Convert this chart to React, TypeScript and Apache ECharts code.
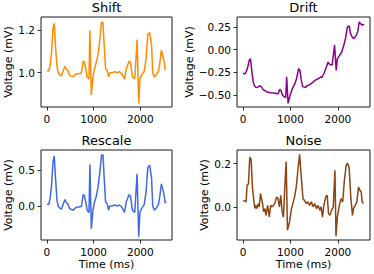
import React, { useEffect, useRef } from "react";
import * as echarts from "echarts";

const titles = ["Shift", "Drift", "Rescale", "Noise"];
const colors = ["#ff8c00", "#8b008b", "#4169e1", "#8b4513"];

const timeMs = [0, 40, 70, 100, 130, 156, 185, 215, 240, 275, 310, 350, 385, 420, 450, 480, 510, 560, 600, 640, 700, 740, 775, 800, 830, 860, 900, 920, 950, 985, 1020, 1050, 1090, 1130, 1170, 1200, 1225, 1255, 1290, 1320, 1345, 1400, 1450, 1500, 1550, 1600, 1640, 1660, 1700, 1760, 1790, 1830, 1880, 1930, 1965, 1990, 2030, 2080, 2120, 2160, 2200, 2240, 2265, 2300, 2340, 2390, 2420, 2450, 2480, 2510, 2530, 2550];

const shiftVals = [1.010, 1.008, 1.040, 1.100, 1.210, 1.233, 1.120, 1.030, 1.000, 0.990, 0.985, 1.010, 1.030, 1.015, 1.010, 0.990, 0.985, 0.980, 0.990, 0.995, 0.995, 1.000, 1.055, 1.050, 1.020, 0.980, 0.970, 1.200, 0.895, 0.980, 1.020, 1.045, 1.080, 1.150, 1.240, 1.235, 1.130, 1.020, 1.010, 0.980, 1.000, 1.000, 1.005, 1.000, 1.005, 0.995, 0.980, 0.970, 1.020, 1.055, 1.045, 0.980, 0.970, 1.155, 0.855, 0.970, 0.990, 1.005, 1.060, 1.180, 1.190, 1.130, 1.000, 0.980, 0.990, 1.010, 1.050, 1.107, 1.080, 1.050, 1.015, 1.020];

const driftVals = [-0.26, -0.27, -0.24, -0.19, -0.12, -0.10, -0.24, -0.36, -0.40, -0.42, -0.415, -0.40, -0.41, -0.44, -0.45, -0.46, -0.47, -0.475, -0.478, -0.48, -0.485, -0.49, -0.44, -0.455, -0.50, -0.52, -0.53, -0.30, -0.595, -0.52, -0.46, -0.42, -0.38, -0.32, -0.21, -0.23, -0.33, -0.41, -0.415, -0.42, -0.40, -0.39, -0.37, -0.35, -0.33, -0.32, -0.30, -0.31, -0.27, -0.19, -0.14, -0.165, -0.17, 0.05, -0.23, -0.10, -0.07, -0.03, 0.04, 0.12, 0.25, 0.26, 0.18, 0.14, 0.12, 0.16, 0.20, 0.305, 0.285, 0.27, 0.28, 0.27];

const rescaleVals = [0.025, 0.02, 0.12, 0.30, 0.62, 0.70, 0.38, 0.08, 0.0, -0.03, -0.045, 0.03, 0.09, 0.045, 0.03, -0.03, -0.045, -0.06, -0.03, -0.015, -0.015, 0.0, 0.16, 0.15, 0.06, -0.06, -0.09, 0.58, -0.32, -0.06, 0.06, 0.12, 0.25, 0.46, 0.72, 0.71, 0.40, 0.06, 0.03, -0.06, 0.0, 0.0, 0.015, 0.0, 0.015, -0.015, -0.06, -0.09, 0.06, 0.16, 0.13, -0.06, -0.09, 0.45, -0.43, -0.09, -0.03, 0.015, 0.18, 0.54, 0.57, 0.39, 0.0, -0.06, -0.03, 0.03, 0.15, 0.31, 0.24, 0.15, 0.045, 0.06];

const noiseTimeMs = [0, 43, 64, 85, 114, 142, 170, 199, 234, 249, 270, 291, 320, 341, 369, 390, 412, 433, 461, 483, 518, 554, 582, 611, 639, 667, 710, 738, 767, 795, 824, 852, 880, 909, 937, 980, 1022, 1051, 1086, 1122, 1157, 1193, 1228, 1264, 1299, 1335, 1370, 1406, 1441, 1477, 1512, 1548, 1583, 1619, 1647, 1676, 1704, 1747, 1775, 1803, 1832, 1867, 1903, 1938, 1960, 1988, 2031, 2066, 2102, 2137, 2173, 2201, 2237, 2272, 2308, 2329, 2364, 2400, 2435, 2464, 2492, 2513, 2542];

const noiseVals = [0.03, 0.029, 0.025, 0.10, 0.108, 0.23, 0.22, 0.09, 0.017, -0.005, 0.009, -0.006, 0.017, 0.002, 0.063, 0.04, 0.017, -0.02, -0.006, -0.037, 0.009, -0.044, 0.009, 0.002, 0.009, 0.017, 0.047, 0.04, 0.002, 0.055, -0.02, -0.045, 0.09, 0.21, -0.105, -0.067, -0.006, 0.017, 0.047, 0.093, 0.17, 0.243, 0.14, 0.04, 0.03, 0.017, 0.025, 0.009, 0.025, 0.002, 0.017, -0.006, 0.009, -0.014, 0.002, -0.045, 0.009, 0.05, 0.055, -0.029, -0.037, -0.014, 0.002, 0.17, -0.133, -0.045, 0.009, 0.04, 0.025, 0.123, 0.19, 0.203, 0.185, 0.047, -0.037, -0.006, 0.009, 0.025, 0.093, 0.078, 0.07, 0.025, 0.017];

const xTicks = [0, 1000, 2000];
const yTicks = [
  [1.0, 1.2],
  [-0.5, -0.25, 0.0, 0.25],
  [0.0, 0.5],
  [0.0, 0.2],
];
const yDecimals = [1, 2, 1, 1];
const yRanges = [
  [0.838, 1.263],
  [-0.635, 0.36],
  [-0.476, 0.784],
  [-0.15, 0.263],
];
const xRange = [-127.5, 2677.5];

const grids = [
  { left: 41, top: 17, width: 131, height: 90 },
  { left: 237, top: 17, width: 133, height: 90 },
  { left: 41, top: 150, width: 131, height: 90 },
  { left: 237, top: 150, width: 133, height: 90 },
];
const yNameGaps = [27.5, 38, 27.5, 26];

const FONT = "DejaVu Sans";

export default function App() {
  const ref = useRef<HTMLDivElement>(null);
  useEffect(() => {
    if (!ref.current) return;
    const chart = echarts.init(ref.current, null, { renderer: "svg" });
    const seriesTimes = [timeMs, timeMs, timeMs, noiseTimeMs];
    const seriesVals = [shiftVals, driftVals, rescaleVals, noiseVals];
    const fmtMinus = (s: string) => s.replace("-", "\u2212");
    const option: any = {
      animation: false,
      backgroundColor: "#fff",
      title: grids.map((g, i) => ({
        text: titles[i],
        left: g.left + g.width / 2,
        top: g.top - 16,
        textAlign: "center",
        textStyle: { fontFamily: FONT, fontSize: 13, fontWeight: "normal", color: "#000" },
        padding: 0,
      })),
      grid: grids.map((g) => ({
        ...g,
        show: true,
        borderColor: "#1a1a1a",
        borderWidth: 1,
        backgroundColor: "transparent",
        containLabel: false,
      })),
      xAxis: grids.map((g, i) => ({
        type: "value",
        gridIndex: i,
        position: "bottom",
        min: xRange[0],
        max: xRange[1],
        name: i >= 2 ? "Time (ms)" : "",
        nameLocation: "middle",
        nameGap: 19,
        nameTextStyle: { fontFamily: FONT, fontSize: 11, color: "#000" },
        axisLine: { show: false, onZero: false },
        splitLine: { show: false },
        axisTick: { show: true, inside: false, length: 3.5, customValues: xTicks, lineStyle: { color: "#1a1a1a", width: 0.9 } },
        axisLabel: {
          show: true,
          margin: 6,
          customValues: xTicks,
          fontFamily: FONT,
          fontSize: 10.5,
          color: "#000",
          formatter: (v: number) => String(Math.round(v)),
        },
      })),
      yAxis: grids.map((g, i) => ({
        type: "value",
        gridIndex: i,
        position: "left",
        min: yRanges[i][0],
        max: yRanges[i][1],
        name: "Voltage (mV)",
        nameLocation: "middle",
        nameRotate: 90,
        nameGap: yNameGaps[i],
        nameTextStyle: { fontFamily: FONT, fontSize: 11, color: "#000" },
        axisLine: { show: false, onZero: false },
        splitLine: { show: false },
        axisTick: { show: true, inside: false, length: 3.5, customValues: yTicks[i], lineStyle: { color: "#1a1a1a", width: 0.9 } },
        axisLabel: {
          show: true,
          margin: 6,
          customValues: yTicks[i],
          fontFamily: FONT,
          fontSize: 10.5,
          color: "#000",
          formatter: (v: number) => fmtMinus(v.toFixed(yDecimals[i])),
        },
      })),
      series: seriesVals.map((vals, i) => ({
        type: "line",
        xAxisIndex: i,
        yAxisIndex: i,
        data: seriesTimes[i].map((t, k) => [t, vals[k]]),
        showSymbol: false,
        symbol: "none",
        lineStyle: { color: colors[i], width: 1.5 },
        clip: true,
      })),
    };
    chart.setOption(option);
    return () => chart.dispose();
  }, []);
  return (
    <div
      ref={ref}
      style={{ position: "fixed", left: 0, top: 0, width: 374, height: 274 }}
    />
  );
}
